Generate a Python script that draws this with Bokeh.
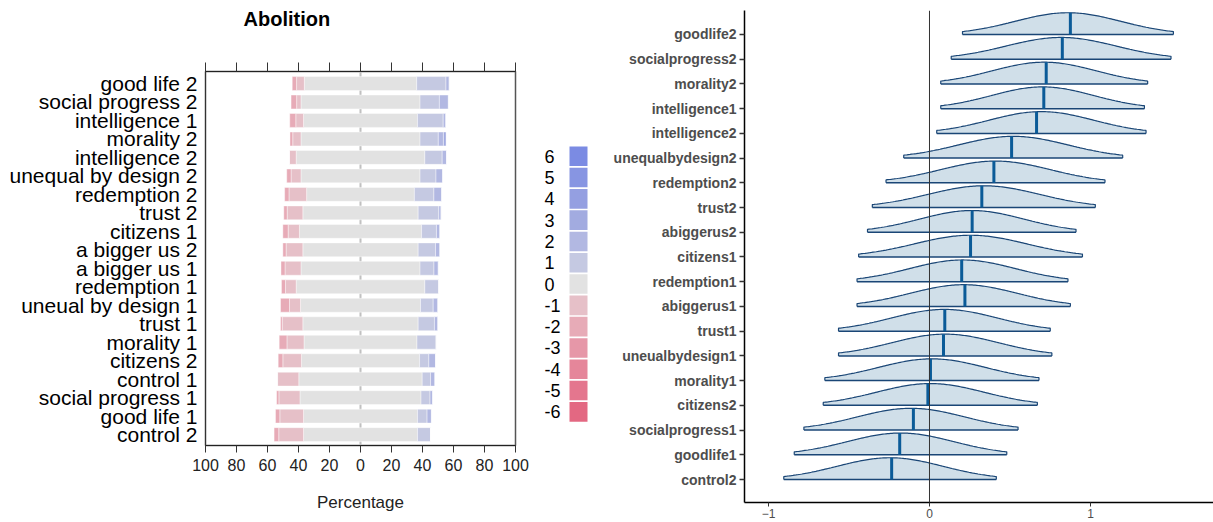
import numpy as np
from bokeh.plotting import figure
from bokeh.models import Range1d, LinearAxis, FixedTicker, Span, Title, CustomJSTickFormatter
from bokeh.layouts import row
from bokeh.embed import file_html
from bokeh.resources import INLINE

FONT = "Liberation Sans"

# ---------------- Left panel data (top to bottom) ----------------
left_labels = ["good life 2", "social progress 2", "intelligence 1", "morality 2",
               "intelligence 2", "unequal by design 2", "redemption 2", "trust 2",
               "citizens 1", "a bigger us 2", "a bigger us 1", "redemption 1",
               "uneual by design 1", "trust 1", "morality 1", "citizens 2",
               "control 1", "social progress 1", "good life 1", "control 2"]
pct_m2 = [2.8, 3.6, 3.9, 1.8, 0.0, 2.8, 2.8, 2.2, 3.4, 2.1,
          2.6, 2.6, 5.8, 1.1, 5.0, 3.0, 0.0, 1.5, 2.8, 3.0]
pct_m1 = [5.0, 2.8, 5.0, 5.3, 4.3, 6.4, 11.4, 10.1, 7.3, 10.8,
          10.3, 6.9, 7.1, 13.3, 11.0, 12.0, 13.7, 13.6, 15.3, 16.0]
pct_0 = [72.5, 76.8, 73.5, 76.8, 83.0, 76.8, 69.5, 74.4, 78.8, 74.4,
         76.8, 83.0, 77.4, 74.4, 72.9, 76.2, 79.6, 78.1, 73.5, 73.5]
pct_p1 = [18.9, 12.5, 16.6, 11.8, 11.2, 10.3, 12.6, 13.3, 9.6, 11.2,
          9.0, 9.0, 8.2, 10.5, 12.4, 6.0, 5.4, 5.8, 6.2, 8.4]
pct_p2 = [2.1, 5.8, 1.7, 3.3, 2.8, 4.3, 5.0, 1.5, 2.2, 2.8,
          2.8, 0.0, 3.0, 2.2, 0.0, 4.3, 2.8, 1.7, 2.8, 0.0]
pct_p3 = [0.0, 0.0, 0.0, 1.7, 0.0, 0.0, 0.0, 0.0, 0.0, 0.0,
          0.0, 0.0, 0.0, 0.0, 0.0, 0.0, 0.0, 0.0, 0.0, 0.0]

legend_levels = ["6", "5", "4", "3", "2", "1", "0", "-1", "-2", "-3", "-4", "-5", "-6"]
legend_colors = ["#7b8be3", "#8795e2", "#949fe1", "#a2abe0", "#b2b8e2", "#c5c9e2", "#e2e2e2",
                 "#e6c0c8", "#e7abb7", "#e697a8", "#e5869a", "#e4768e", "#e36882"]
col = dict(zip(legend_levels, legend_colors))

x_ticks = [-100, -80, -60, -40, -20, 0, 20, 40, 60, 80, 100]
x_tick_labels = ["100", "80", "60", "40", "20", "0", "20", "40", "60", "80", "100"]

# ---------------- Right panel data (top to bottom) ----------------
ridge_labels = ["goodlife2", "socialprogress2", "morality2", "intelligence1", "intelligence2",
                "unequalbydesign2", "redemption2", "trust2", "abiggerus2", "citizens1",
                "redemption1", "abiggerus1", "trust1", "uneualbydesign1", "morality1",
                "citizens2", "socialprogress1", "goodlife1", "control2"]
ridge_mean = [0.875, 0.825, 0.725, 0.71, 0.665, 0.51, 0.40, 0.325, 0.265, 0.255,
              0.20, 0.22, 0.095, 0.087, 0.006, -0.01, -0.10, -0.185, -0.235]
ridge_lo = [0.205, 0.135, 0.07, 0.07, 0.045, -0.16, -0.27, -0.355, -0.385, -0.44,
            -0.45, -0.45, -0.565, -0.565, -0.65, -0.66, -0.78, -0.84, -0.905]
ridge_hi = [1.515, 1.50, 1.355, 1.335, 1.345, 1.20, 1.09, 1.03, 0.91, 0.95,
            0.86, 0.875, 0.75, 0.76, 0.68, 0.67, 0.55, 0.48, 0.415]
r_ticks = [-1, 0, 1]

H = 522

# ================= Left figure =================
n = len(left_labels)
ypos = [n - 1 - i for i in range(n)]
p = figure(width=538, height=H, x_range=Range1d(-100, 100), y_range=Range1d(-0.59, n - 1 + 0.65),
           output_backend="svg", toolbar_location=None, min_border_left=205, min_border_right=23,
           min_border_top=69, min_border_bottom=77, x_axis_location=None, y_axis_location=None)
p.frame_align = False
p.xgrid.grid_line_color = None
p.ygrid.grid_line_color = None
p.outline_line_color = "#555555"
p.outline_line_width = 1.5
p.background_fill_color = "white"

p.add_layout(Span(location=0, dimension="height", line_color="#c0c0c0", line_width=2, level="underlay"))

# stacked diverging segments
half0 = [z / 2 for z in pct_0]
segs = []
segs.append(([-h for h in half0], half0, col["0"]))
l1 = [-h - a for h, a in zip(half0, pct_m1)]
segs.append((l1, [-h for h in half0], col["-1"]))
l2 = [a - b for a, b in zip(l1, pct_m2)]
segs.append((l2, l1, col["-2"]))
r1 = [h + a for h, a in zip(half0, pct_p1)]
segs.append((half0, r1, col["1"]))
r2 = [a + b for a, b in zip(r1, pct_p2)]
segs.append((r1, r2, col["2"]))
r3 = [a + b for a, b in zip(r2, pct_p3)]
segs.append((r2, r3, col["3"]))
for lft, rgt, c in segs:
    p.hbar(y=ypos, left=lft, right=rgt, height=0.75, fill_color=c, line_color="white",
           line_width=0.6, line_alpha=0.7)

xb = LinearAxis(ticker=FixedTicker(ticks=x_ticks),
                major_label_overrides={t: s for t, s in zip(x_ticks, x_tick_labels)})
xb.axis_label = "Percentage"
xb.axis_label_text_font = FONT
xb.axis_label_text_font_style = "normal"
xb.axis_label_text_font_size = "17px"
xb.axis_label_text_color = "#222222"
xb.axis_label_standoff = 19
xb.major_label_text_font = FONT
xb.major_label_text_font_size = "16px"
xb.major_label_text_color = "#222222"
xb.major_label_standoff = 6
xb.major_tick_in = 0
xb.major_tick_out = 7
xb.major_tick_line_color = "#333333"
xb.minor_tick_line_color = None
xb.axis_line_color = "#222222"
p.add_layout(xb, "below")

xt = LinearAxis(ticker=FixedTicker(ticks=x_ticks),
                formatter=CustomJSTickFormatter(code="return ''"))
xt.major_tick_in = 0
xt.major_tick_out = 9
xt.major_tick_line_color = "#333333"
xt.minor_tick_line_color = None
xt.axis_line_color = "#222222"
xt.major_label_standoff = 0
xt.major_label_text_font_size = "1px"
p.add_layout(xt, "above")

# spacer + title (stacked outward from the top axis)
p.add_layout(Title(text=" ", text_font_size="14px"), "above")
p.add_layout(Title(text="Abolition", text_font=FONT, text_font_style="bold",
                   text_font_size="20px", text_color="#000000", align="left", offset=38), "above")

yl = LinearAxis(ticker=FixedTicker(ticks=ypos),
                major_label_overrides={y: s for y, s in zip(ypos, left_labels)})
yl.major_label_text_font = FONT
yl.major_label_text_font_size = "21px"
yl.major_label_text_color = "#000000"
yl.major_tick_line_color = None
yl.minor_tick_line_color = None
yl.major_tick_out = 0
yl.major_tick_in = 0
yl.major_label_standoff = 8
yl.axis_line_color = "#333333"
p.add_layout(yl, "left")

# ================= Legend figure =================
pitch = 21.3
g_start = -(H - 411.35) / pitch
g = figure(width=62, height=H, x_range=Range1d(0, 62), y_range=Range1d(g_start, g_start + H / pitch),
           output_backend="svg", toolbar_location=None, min_border=0,
           x_axis_location=None, y_axis_location=None)
g.frame_align = False
g.xgrid.grid_line_color = None
g.ygrid.grid_line_color = None
g.outline_line_color = None
gy = [len(legend_levels) - 1 - i for i in range(len(legend_levels))]
g.rect(x=[40] * len(gy), y=gy, width=18, height=0.92, fill_color=legend_colors, line_color=None)
g.text(x=[6] * len(gy), y=gy, text=legend_levels, text_align="left", text_baseline="middle",
       text_font_size="18px", text_color="#000000", text_font={"value": FONT})

# ================= Right figure =================
nr = len(ridge_labels)
rpos = [nr - 1 - i for i in range(nr)]
q = figure(width=613, height=H, x_range=Range1d(-1.149, 1.764), y_range=Range1d(-0.93, nr - 1 + 0.97),
           output_backend="svg", toolbar_location=None, min_border_left=144, min_border_right=0,
           min_border_top=10, min_border_bottom=20, x_axis_location=None, y_axis_location=None)
q.frame_align = False
q.xgrid.grid_line_color = None
q.ygrid.grid_line_color = None
q.outline_line_color = None

q.add_layout(Span(location=0, dimension="height", line_color="#333333", line_width=1))

FILL = "#d0dfe9"
EDGE = "#1a4676"
MEAN = "#0b5b98"
PEAK = 0.88
for y0, m, lo, hi in zip(rpos, ridge_mean, ridge_lo, ridge_hi):
    xs = np.linspace(lo, hi, 140)
    c = (lo + hi) / 2
    sd = (hi - lo) / 2 / 2.0
    dens = PEAK * np.exp(-0.5 * ((xs - c) / sd) ** 2)
    q.varea(x=xs, y1=np.full_like(xs, y0), y2=y0 + dens, fill_color=FILL, fill_alpha=1.0)
    q.line(np.concatenate([[lo], xs, [hi]]), np.concatenate([[y0], y0 + dens, [y0]]),
           line_color=EDGE, line_width=1.2)
    q.segment(x0=[lo], y0=[y0], x1=[hi], y1=[y0], line_color=EDGE, line_width=1.5)
    dm = PEAK * np.exp(-0.5 * ((m - c) / sd) ** 2)
    q.segment(x0=[m], y0=[y0], x1=[m], y1=[y0 + dm], line_color=MEAN, line_width=3)

rx = LinearAxis(ticker=FixedTicker(ticks=r_ticks))
rx.major_label_text_font = FONT
rx.major_label_text_font_size = "12px"
rx.major_label_text_color = "#4d4d4d"
rx.major_tick_in = 0
rx.major_tick_out = 4
rx.major_label_standoff = 2
rx.major_tick_line_color = "#333333"
rx.minor_tick_line_color = None
rx.axis_line_color = "#000000"
rx.axis_line_width = 1.5
q.add_layout(rx, "below")

ry = LinearAxis(ticker=FixedTicker(ticks=rpos),
                major_label_overrides={y: s for y, s in zip(rpos, ridge_labels)})
ry.major_label_text_font = FONT
ry.major_label_text_font_size = "14px"
ry.major_label_text_font_style = "bold"
ry.major_label_text_color = "#4d4d4d"
ry.major_tick_in = 0
ry.major_tick_out = 5
ry.major_label_standoff = 3
ry.major_tick_line_color = "#333333"
ry.major_tick_line_width = 1.5
ry.minor_tick_line_color = None
ry.axis_line_color = "#000000"
ry.axis_line_width = 1.5
q.add_layout(ry, "left")

layout = row(p, g, q, spacing=0)
open("out.html", "w").write(file_html(layout, INLINE))
